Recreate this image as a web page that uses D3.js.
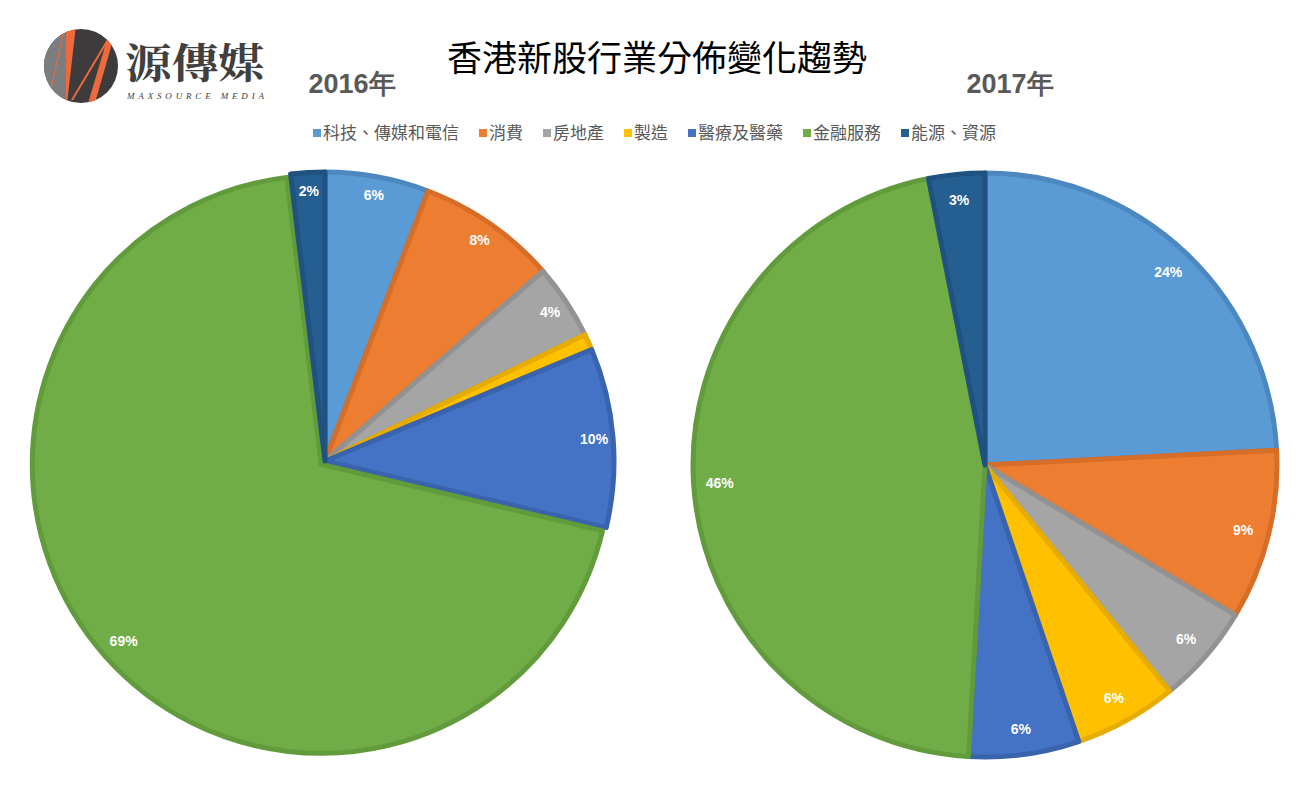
<!DOCTYPE html>
<html><head><meta charset="utf-8">
<script src="https://cdn.jsdelivr.net/npm/d3@7/dist/d3.min.js"></script>
<style>
html,body{margin:0;padding:0;background:#fff;}
svg{display:block;}
</style></head>
<body>
<svg id="chart" width="1311" height="800"></svg>
<script>
// ---------- data ----------
const categories = ["科技、傳媒和電信","消費","房地產","製造","醫療及醫藥","金融服務","能源、資源"];
const years = ["2016年","2017年"];
const values2016 = [5.8, 7.8, 4.2, 0.9, 10.0, 69.4, 1.9];
const values2017 = [24.2, 9.4, 5.5, 5.7, 6.1, 46.0, 3.1];
const chartTitle = "香港新股行業分佈變化趨勢";

// ---------- styles ----------
const fills   = ["#5B9BD5","#ED7D31","#A5A5A5","#FFC000","#4472C4","#70AD47","#255E91"];
const strokes = ["#4C88BF","#D66E27","#929292","#E6AC00","#3A63AE","#629B3C","#1F5181"];
const CJK = "'Noto Sans CJK TC','Noto Sans CJK SC',sans-serif";

const svg = d3.select("#chart");

// ---------- logo ----------
const logo = svg.append("g");
const defs = svg.append("defs");
defs.append("clipPath").attr("id","logoClip").append("circle").attr("cx",81).attr("cy",66).attr("r",37);
const lg = logo.append("g").attr("clip-path","url(#logoClip)");
lg.append("rect").attr("x",40).attr("y",25).attr("width",85).attr("height",85).attr("fill","#3d3b3c");
lg.append("polygon").attr("points","40,25 66,25 66,110 40,110").attr("fill","#7d7c7e");
lg.append("polygon").attr("points","66,25 76,25 67,104 66,104").attr("fill","#ee6a3c");
lg.append("line").attr("x1",64).attr("y1",30).attr("x2",49).attr("y2",98).attr("stroke","#ee6a3c").attr("stroke-width",1);
lg.append("line").attr("x1",109).attr("y1",38).attr("x2",72).attr("y2",100).attr("stroke","#ee6a3c").attr("stroke-width",2);
lg.append("polygon").attr("points","109,33 115,33 93,110 86,110").attr("fill","#ee6a3c");
logo.append("text").attr("x",125).attr("y",78)
  .attr("font-family","'Noto Serif CJK TC','Noto Sans CJK TC',serif").attr("font-weight","bold")
  .attr("font-size",41).attr("fill","#404040").attr("textLength",140).attr("lengthAdjust","spacingAndGlyphs").text("源傳媒");
logo.append("text").attr("x",127).attr("y",99)
  .attr("font-family","'Liberation Serif','DejaVu Serif',serif").attr("font-style","italic")
  .attr("font-size",9).attr("fill","#404040").attr("textLength",137).text("MAXSOURCE MEDIA");

// ---------- title ----------
svg.append("text").attr("x",657).attr("y",71).attr("text-anchor","middle")
  .attr("font-family",CJK).attr("font-size",35).attr("fill","#000").text(chartTitle);

// ---------- legend ----------
const legend = svg.append("g");
let lx = 313;
categories.forEach((c,i)=>{
  legend.append("rect").attr("x",lx).attr("y",129).attr("width",8).attr("height",8).attr("fill",fills[i]);
  const t = legend.append("text").attr("x",lx+10).attr("y",139)
    .attr("font-family",CJK).attr("font-size",17).attr("fill","#595959").text(c);
  lx += 10 + t.node().getComputedTextLength() + 20;
});

// ---------- pies ----------
const pies = [
  {vals: values2016, cx: 325, cy: 461, r: 289, labelR: 270, year: years[0], yx: 352, explode: {5: 5}},
  {vals: values2017, cx: 985, cy: 465, r: 292, labelR: 266, year: years[1], yx: 1010, explode: {}}
];
const pieGen = d3.pie().sort(null).value(d=>d);

pies.forEach(p=>{
  svg.append("text").attr("x",p.yx).attr("y",93).attr("text-anchor","middle")
    .attr("font-family","'Liberation Sans',Arial,sans-serif").attr("font-weight","bold")
    .attr("font-size",27).attr("fill","#595959").text(p.year);

  const g = svg.append("g").attr("transform",`translate(${p.cx},${p.cy})`);
  const arcs = pieGen(p.vals);
  const arcGen = d3.arc().innerRadius(0).outerRadius(p.r);
  const offset = (d,i)=>{
    const e = p.explode[i]||0; const a=(d.startAngle+d.endAngle)/2;
    return [Math.sin(a)*e, -Math.cos(a)*e];
  };
  g.selectAll("path").data(arcs).join("path")
    .attr("d",arcGen)
    .attr("transform",(d,i)=>{const o=offset(d,i);return `translate(${o[0]},${o[1]})`;})
    .attr("fill",(d,i)=>fills[i])
    .attr("stroke",(d,i)=>strokes[i])
    .attr("stroke-width",5)
    .attr("stroke-linejoin","round");
  const lab = d3.arc().innerRadius(p.labelR).outerRadius(p.labelR);
  g.selectAll("text.lbl").data(arcs.filter(d=>d.value>=1.5)).join("text")
    .attr("class","lbl")
    .attr("x",d=>lab.centroid(d)[0]).attr("y",d=>lab.centroid(d)[1]+5)
    .attr("text-anchor","middle")
    .attr("font-family","'Liberation Sans',Arial,sans-serif").attr("font-weight","bold")
    .attr("font-size",14).attr("fill","#fff")
    .text(d=>Math.round(d.value)+"%");
});
</script>
</body></html>
